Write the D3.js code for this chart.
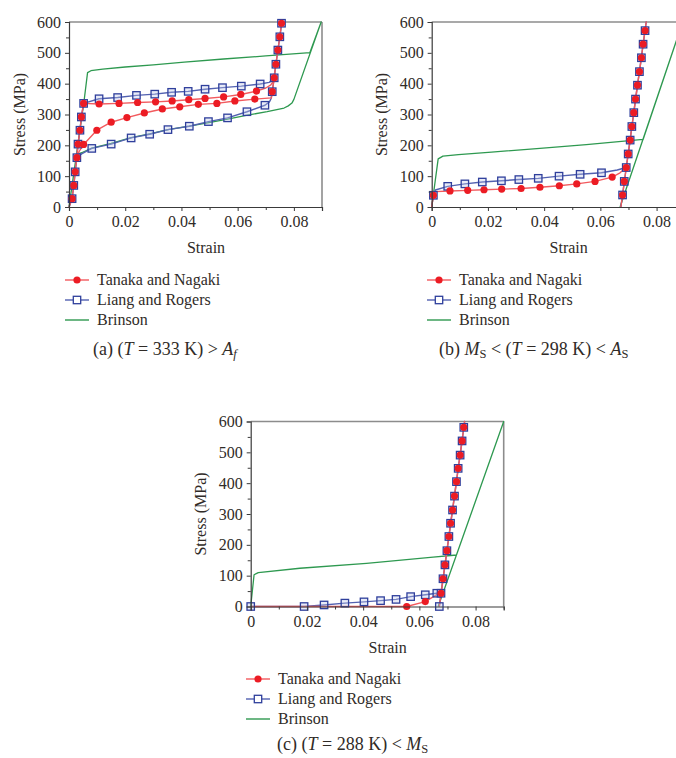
<!DOCTYPE html>
<html>
<head>
<meta charset="utf-8">
<script src="https://cdn.jsdelivr.net/npm/d3@7"></script>
<style>
  body { margin: 0; background: #fff; }
  svg { display: block; }
  text { font-family: "Liberation Serif", "Times New Roman", serif; fill: #302b27; }
</style>
</head>
<body>
<svg id="fig" width="676" height="758"></svg>
<script>
// ---- axis ticks ----
const strainTicks = [0, 0.02, 0.04, 0.06, 0.08];
const strainMinor = [0.01, 0.03, 0.05, 0.07, 0.09];
const stressTicks = [0, 100, 200, 300, 400, 500, 600];
const stressMinor = [50, 150, 250, 350, 450, 550];
const seriesNames = ["Tanaka and Nagaki", "Liang and Rogers", "Brinson"];

// ---- (a) T = 333 K : [strain, stress MPa] ----
const tanakaA_path = [[0,0],[0.0011,27],[0.0017,70],[0.0022,114],[0.0028,160],[0.0032,204],[0.0039,249],[0.0044,292],[0.0052,336],
  [0.0107,334],[0.0178,336],[0.0244,339],[0.0308,341],[0.0367,344],[0.0426,348],[0.0484,352],[0.055,357],[0.0611,365],[0.0667,376],
  [0.0700,386],[0.0718,396],[0.0728,410],[0.0736,463],[0.0743,509],[0.0750,552],[0.0757,600],
  [0.0750,552],[0.0743,509],[0.0736,463],[0.0730,419],[0.0723,374],[0.0720,354],
  [0.0661,350],[0.059,344],[0.0526,336],[0.046,333],[0.0394,325],[0.0332,318],[0.0268,305],[0.0206,290],[0.015,275],[0.0099,249],[0.0052,203],
  [0.0036,180],[0.0028,160],[0.0022,114],[0.0017,70],[0.0011,27],[0,0]];
const tanakaA_marks = [[0.0011,27],[0.0017,70],[0.0022,114],[0.0028,160],[0.0032,204],[0.0039,249],[0.0044,292],[0.0052,336],
  [0.0107,334],[0.0178,336],[0.0244,339],[0.0308,341],[0.0367,344],[0.0426,348],[0.0484,352],[0.055,357],[0.0611,365],[0.0667,376],
  [0.0723,374],[0.0730,419],[0.0736,463],[0.0743,509],[0.0750,552],[0.0756,596],
  [0.0661,350],[0.059,344],[0.0526,336],[0.046,333],[0.0394,325],[0.0332,318],[0.0268,305],[0.0206,290],[0.015,275],[0.0099,249],[0.0052,203]];
const liangA_path = [[0,0],[0.0011,27],[0.0017,70],[0.0022,114],[0.0028,160],[0.0032,204],[0.0039,249],[0.0044,292],[0.0052,336],
  [0.0107,351],[0.0173,355],[0.024,362],[0.0305,366],[0.0365,372],[0.0424,375],[0.0484,382],[0.0546,387],[0.0613,392],[0.068,399],
  [0.0712,404],[0.0728,414],[0.0736,463],[0.0743,509],[0.0750,552],[0.0757,600],
  [0.0750,552],[0.0743,509],[0.0736,463],[0.0730,419],[0.0723,374],[0.0719,352],[0.0713,341],
  [0.0697,330],[0.0633,309],[0.0564,289],[0.0496,277],[0.0428,262],[0.0352,251],[0.0287,236],[0.0221,224],[0.015,204],[0.0081,190],
  [0.0045,172],[0.0031,164],[0.0028,160],[0.0022,114],[0.0017,70],[0.0011,27],[0,0]];
const liangA_marks = [[0.0011,27],[0.0017,70],[0.0022,114],[0.0028,160],[0.0032,204],[0.0039,249],[0.0044,292],[0.0052,336],
  [0.0107,351],[0.0173,355],[0.024,362],[0.0305,366],[0.0365,372],[0.0424,375],[0.0484,382],[0.0546,387],[0.0613,392],[0.068,399],
  [0.0723,374],[0.0730,419],[0.0736,463],[0.0743,509],[0.0750,552],[0.0756,596],
  [0.0697,330],[0.0633,309],[0.0564,289],[0.0496,277],[0.0428,262],[0.0352,251],[0.0287,236],[0.0221,224],[0.015,204],[0.0081,190]];
const brinsonA_path = [[0,0],[0.0054,347],[0.0066,436],[0.0078,442],[0.012,447],[0.02,454],[0.03,461],[0.041,470],[0.055,480],[0.07,490],[0.0857,501],
  [0.0897,600],[0.0800,349],[0.0793,337],[0.0780,328],[0.0765,321],[0.0705,309],[0.0635,298],[0.0564,285],[0.0493,273],[0.0428,262],
  [0.0352,251],[0.0287,237],[0.0221,225],[0.015,206],[0.0081,191],[0.0045,176],[0.0027,170],[0,0]];

// ---- (b) T = 298 K ----
const tanakaB_path = [[0,0],[0.0006,38],[0.0013,50],[0.0065,52],[0.0128,54],[0.0186,56],[0.0249,58],[0.0318,60],[0.0385,64],[0.0454,69],
  [0.0516,75],[0.0581,83],[0.0642,97],[0.0670,111],[0.0686,124],[0.0692,128],[0.0699,172],[0.0706,217],[0.0712,261],[0.0719,306],
  [0.0725,350],[0.0732,395],[0.0739,439],[0.0746,484],[0.0752,528],[0.0759,572],[0.0763,600],[0.0673,0]];
const tanakaB_marks = [[0.0006,38],[0.0065,52],[0.0128,54],[0.0186,56],[0.0249,58],[0.0318,60],[0.0385,64],[0.0454,69],[0.0516,75],[0.0581,83],[0.0642,97],
  [0.0679,39],[0.0685,83],[0.0692,128],[0.0699,172],[0.0706,217],[0.0712,261],[0.0719,306],[0.0725,350],[0.0732,395],[0.0739,439],[0.0746,484],[0.0752,528],[0.0759,572]];
const liangB_path = [[0,0],[0.0006,38],[0.0013,55],[0.0057,67],[0.0118,75],[0.018,81],[0.0248,85],[0.031,89],[0.0379,93],[0.0453,100],
  [0.0528,106],[0.0604,111],[0.0660,120],[0.0692,128],[0.0699,172],[0.0706,217],[0.0712,261],[0.0719,306],
  [0.0725,350],[0.0732,395],[0.0739,439],[0.0746,484],[0.0752,528],[0.0759,572],[0.0763,600],[0.0673,0]];
const liangB_marks = [[0.0006,38],[0.0057,67],[0.0118,75],[0.018,81],[0.0248,85],[0.031,89],[0.0379,93],[0.0453,100],[0.0528,106],[0.0604,111],
  [0.0679,39],[0.0685,83],[0.0692,128],[0.0699,172],[0.0706,217],[0.0712,261],[0.0719,306],[0.0725,350],[0.0732,395],[0.0739,439],[0.0746,484],[0.0752,528],[0.0759,572]];
const brinsonB_path = [[0,0],[0.0023,156],[0.0040,165],[0.0095,170],[0.0213,178],[0.0385,190],[0.055,202],[0.0752,219],[0.0893,600],[0.0670,0]];

// ---- (c) T = 288 K ----
const tanakaC_path = [[0,0],[0.0555,0],[0.0621,16],[0.0665,40],[0.0677,43],[0.0684,90],[0.0691,135],[0.0698,181],[0.0705,227],[0.0711,270],
  [0.0718,313],[0.0725,358],[0.0732,405],[0.0738,448],[0.0745,491],[0.0752,537],[0.0758,581],[0.0761,600],[0.0671,0]];
const tanakaC_marks = [[0.0555,0],[0.0621,16],[0.0677,43],[0.0684,90],[0.0691,135],[0.0698,181],[0.0705,227],[0.0711,270],
  [0.0718,313],[0.0725,358],[0.0732,405],[0.0738,448],[0.0745,491],[0.0752,537],[0.0758,581]];
const liangC_path = [[0,0],[0.019,0],[0.0261,5],[0.0335,11],[0.0403,15],[0.0462,19],[0.0517,23],[0.0569,32],[0.0621,38],[0.0662,43],[0.0677,45],
  [0.0684,90],[0.0691,135],[0.0698,181],[0.0705,227],[0.0711,270],[0.0718,313],[0.0725,358],[0.0732,405],[0.0738,448],[0.0745,491],
  [0.0752,537],[0.0758,581],[0.0761,600],[0.0671,0]];
const liangC_marks = [[0,0],[0.019,0],[0.0261,5],[0.0335,11],[0.0403,15],[0.0462,19],[0.0517,23],[0.0569,32],[0.0621,38],[0.0662,43],[0.0671,0],
  [0.0677,43],[0.0684,90],[0.0691,135],[0.0698,181],[0.0705,227],[0.0711,270],[0.0718,313],[0.0725,358],[0.0732,405],[0.0738,448],
  [0.0745,491],[0.0752,537],[0.0758,581]];
const brinsonC_path = [[0,0],[0.0012,103],[0.0027,110],[0.0175,124],[0.0412,140],[0.0649,160],[0.0732,167],[0.0900,600],[0.0667,0]];

// ---- styling ----
const RED_LINE = "#f25a5e", RED_DOT = "#ec1c24";
const BLUE_LINE = "#5261b0", BLUE_SQ = "#2f3f9c";
const GREEN = "#2e9950";
const PW = 253, PH = 185;

const svg = d3.select("#fig");

function drawPanel(left, top, tanakaPath, tanakaMarks, liangPath, liangMarks, brinsonPath) {
  const x = d3.scaleLinear().domain([0, 0.09]).range([left, left + PW]);
  const y = d3.scaleLinear().domain([0, 600]).range([top + PH, top]);
  const g = svg.append("g");
  const line = d3.line().x(d => x(d[0])).y(d => y(d[1]));

  // frame: top and right in grey
  g.append("line").attr("x1", left).attr("x2", left + PW).attr("y1", top).attr("y2", top)
    .attr("stroke", "#8c8c8c").attr("stroke-width", 1.6);
  g.append("line").attr("x1", left + PW).attr("x2", left + PW).attr("y1", top).attr("y2", top + PH)
    .attr("stroke", "#8c8c8c").attr("stroke-width", 1.6);

  // series lines
  g.append("path").attr("d", line(brinsonPath)).attr("fill", "none")
    .attr("stroke", GREEN).attr("stroke-width", 1.3).attr("stroke-linejoin", "round");
  g.append("path").attr("d", line(liangPath)).attr("fill", "none")
    .attr("stroke", BLUE_LINE).attr("stroke-width", 1.4).attr("stroke-linejoin", "round");
  g.append("path").attr("d", line(tanakaPath)).attr("fill", "none")
    .attr("stroke", RED_LINE).attr("stroke-width", 1.4).attr("stroke-linejoin", "round");

  // markers
  const s = 7.4;
  g.selectAll(null).data(liangMarks).enter().append("rect")
    .attr("x", d => x(d[0]) - s / 2).attr("y", d => y(d[1]) - s / 2)
    .attr("width", s).attr("height", s)
    .attr("fill", "rgba(190,198,232,0.35)").attr("stroke", BLUE_SQ).attr("stroke-width", 1.3);
  g.selectAll(null).data(tanakaMarks).enter().append("circle")
    .attr("cx", d => x(d[0])).attr("cy", d => y(d[1])).attr("r", 3.6)
    .attr("fill", RED_DOT);

  // axes
  g.append("g").attr("transform", `translate(${left},0)`)
    .call(d3.axisLeft(y).tickValues(stressTicks).tickSize(4).tickPadding(4).tickFormat(d3.format("d")));
  g.append("g").attr("transform", `translate(${left},0)`)
    .call(d3.axisLeft(y).tickValues(stressMinor).tickSize(3).tickFormat(""))
    .call(a => a.select(".domain").remove());
  g.append("g").attr("transform", `translate(0,${top + PH})`)
    .call(d3.axisBottom(x).tickValues(strainTicks).tickSize(4).tickPadding(5)
      .tickFormat(d => d === 0 ? "0" : d3.format(".2f")(d)));
  g.append("g").attr("transform", `translate(0,${top + PH})`)
    .call(d3.axisBottom(x).tickValues(strainMinor).tickSize(3).tickFormat(""))
    .call(a => a.select(".domain").remove());
  g.selectAll(".domain").attr("stroke", "#3a3a3a").attr("stroke-width", 1.2);
  g.selectAll(".tick line").attr("stroke", "#3a3a3a");
  g.selectAll(".tick text").attr("font-size", 16).attr("font-family", '"Liberation Serif", serif').attr("fill", "#302b27");

  // axis titles
  g.append("text").attr("transform", `translate(${left - 50},${top + PH / 2}) rotate(-90)`)
    .attr("text-anchor", "middle").attr("dominant-baseline", "central")
    .attr("font-size", 16).text("Stress (MPa)");
  g.append("text").attr("x", left + 137).attr("y", top + PH + 46)
    .attr("text-anchor", "middle").attr("font-size", 16).text("Strain");
}

function drawLegend(lx, ly) {
  const g = svg.append("g");
  const colors = [RED_LINE, BLUE_LINE, GREEN];
  seriesNames.forEach((name, i) => {
    const cy = ly + i * 20;
    g.append("line").attr("x1", lx).attr("x2", lx + 24).attr("y1", cy).attr("y2", cy)
      .attr("stroke", colors[i]).attr("stroke-width", 1.4);
    if (i === 0) g.append("circle").attr("cx", lx + 12).attr("cy", cy).attr("r", 3.6).attr("fill", RED_DOT);
    if (i === 1) g.append("rect").attr("x", lx + 12 - 3.7).attr("y", cy - 3.7).attr("width", 7.4).attr("height", 7.4)
      .attr("fill", "#fff").attr("stroke", BLUE_SQ).attr("stroke-width", 1.3);
    g.append("text").attr("x", lx + 32).attr("y", cy + 5).attr("font-size", 16).text(name);
  });
}

function caption(cx, cy, parts) {
  const t = svg.append("text").attr("x", cx).attr("y", cy).attr("font-size", 18);
  parts.forEach(p => {
    const sp = t.append("tspan").text(p.t);
    if (p.i) sp.attr("font-style", "italic");
    if (p.sub) sp.attr("font-size", 12.5).attr("dy", 3);
    if (p.up) sp.attr("dy", -3);
  });
}

drawPanel(69, 22, tanakaA_path, tanakaA_marks, liangA_path, liangA_marks, brinsonA_path);
drawPanel(431.7, 22, tanakaB_path, tanakaB_marks, liangB_path, liangB_marks, brinsonB_path);
drawPanel(250.7, 421.5, tanakaC_path, tanakaC_marks, liangC_path, liangC_marks, brinsonC_path);

drawLegend(65, 280);
drawLegend(427, 280);
drawLegend(246, 679);

caption(93, 355, [{t: "(a) ("}, {t: "T", i: true}, {t: " = 333 K) > "}, {t: "A", i: true}, {t: "f", i: true, sub: true}]);
caption(439, 355, [{t: "(b) "}, {t: "M", i: true}, {t: "S", sub: true}, {t: " < (", up: true}, {t: "T", i: true}, {t: " = 298 K) < "}, {t: "A", i: true}, {t: "S", sub: true}]);
caption(277, 750, [{t: "(c) ("}, {t: "T", i: true}, {t: " = 288 K) < "}, {t: "M", i: true}, {t: "S", sub: true}]);
</script>
</body>
</html>
